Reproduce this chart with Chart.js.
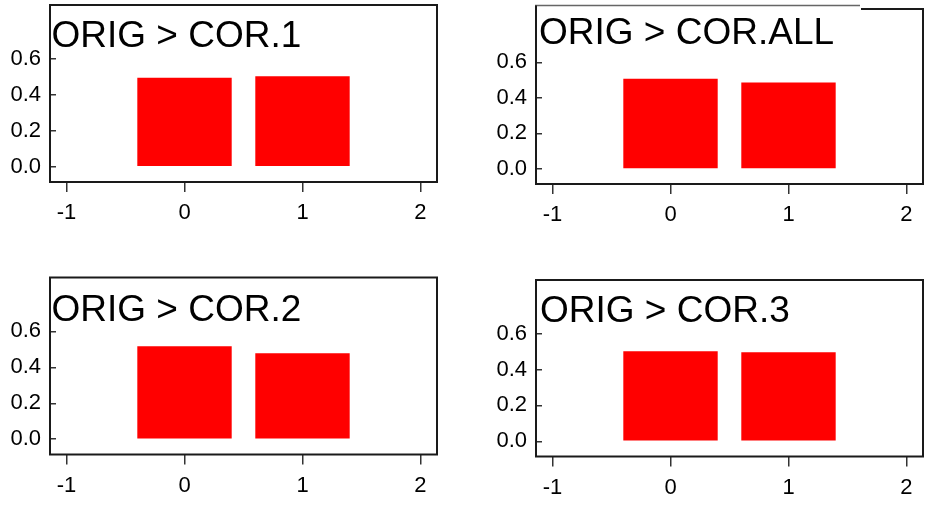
<!DOCTYPE html>
<html>
<head>
<meta charset="utf-8">
<script src="https://cdn.jsdelivr.net/npm/chart.js@4.4.0/dist/chart.umd.min.js"></script>
<style>
  body { margin: 0; background: #fff; }
  #painel { position: relative; width: 932px; height: 506px; }
  #painel canvas { position: absolute; }
</style>
</head>
<body>
<div id="painel">
  <canvas id="g1" width="466" height="253" style="left:0;top:0"></canvas>
  <canvas id="g2" width="466" height="253" style="left:466px;top:0"></canvas>
  <canvas id="g3" width="466" height="253" style="left:0;top:253px"></canvas>
  <canvas id="g4" width="466" height="253" style="left:466px;top:253px"></canvas>
</div>
<script>
// Dados de cada gráfico
const titulos = ['ORIG > COR.1', 'ORIG > COR.ALL', 'ORIG > COR.2', 'ORIG > COR.3'];
const posicoes = [0, 1];
const valoresCor1 = [0.495, 0.503];
const valoresCorAll = [0.507, 0.486];
const valoresCor2 = [0.518, 0.479];
const valoresCor3 = [0.502, 0.497];
const ticksX = [-1, 0, 1, 2];
const ticksY = [0, 0.2, 0.4, 0.6];

const series = [valoresCor1, valoresCorAll, valoresCor2, valoresCor3];

// Área de plotagem de cada canvas (em px) e posição do título
const areas = [
    { l: 50, t: 5, r: 437, b: 182, tx: 1.5, ty: 41.5, caixa: null },
    { l: 70, t: 9, r: 457, b: 184, tx: 3, ty: 34.5, caixa: { y: 5.5, r: 394 } },
    { l: 50, t: 24.5, r: 437, b: 201.5, tx: 1.5, ty: 43.5, caixa: null },
    { l: 70, t: 27, r: 457, b: 203.5, tx: 4, ty: 41.5, caixa: null }
];

const LARGURA_Y = 50;
const ALTURA_X = 45;

// Moldura preta em volta da área e título dentro dela
const moldura = {
    id: 'moldura',
    afterDraw(chart, args, opts) {
        const { ctx, chartArea: a } = chart;
        ctx.save();
        ctx.strokeStyle = '#1a1a1a';
        ctx.lineWidth = 2;
        ctx.strokeRect(a.left, a.top, a.right - a.left, a.bottom - a.top);

        if (opts.caixa) {
            // caixa branca da legenda por cima da borda superior
            ctx.fillStyle = '#fff';
            ctx.fillRect(a.left + 1, opts.caixa.y, opts.caixa.r - a.left, a.top - opts.caixa.y + 2);
            ctx.strokeStyle = '#666';
            ctx.lineWidth = 1.5;
            ctx.beginPath();
            ctx.moveTo(a.left - 1, opts.caixa.y);
            ctx.lineTo(opts.caixa.r, opts.caixa.y);
            ctx.stroke();
            ctx.strokeStyle = '#1a1a1a';
            ctx.lineWidth = 2;
            ctx.beginPath();
            ctx.moveTo(a.left, opts.caixa.y);
            ctx.lineTo(a.left, a.top);
            ctx.stroke();
        }

        ctx.fillStyle = '#000';
        ctx.font = '37px "Liberation Sans", Arial, sans-serif';
        ctx.textBaseline = 'alphabetic';
        ctx.textAlign = 'left';
        ctx.fillText(opts.texto, a.left + opts.tx, a.top + opts.ty);
        ctx.restore();
    }
};

const fonteTicks = { family: '"Liberation Sans", Arial, sans-serif', size: 22 };

function criarGrafico(idx) {
    const area = areas[idx];
    const ctx = document.getElementById('g' + (idx + 1)).getContext('2d');
    const dados = posicoes.map((x, i) => ({ x: x, y: series[idx][i] }));

    return new Chart(ctx, {
        type: 'bar',
        data: {
            datasets: [{
                data: dados,
                backgroundColor: '#ff0000',
                borderWidth: 0,
                barPercentage: 0.8,
                categoryPercentage: 1.0
            }]
        },
        options: {
            responsive: false,
            animation: false,
            layout: {
                padding: {
                    left: area.l - LARGURA_Y,
                    top: area.t,
                    right: 466 - area.r,
                    bottom: 253 - area.b - ALTURA_X
                }
            },
            plugins: {
                legend: { display: false },
                tooltip: { enabled: false },
                moldura: { texto: titulos[idx], tx: area.tx, ty: area.ty, caixa: area.caixa }
            },
            scales: {
                x: {
                    type: 'linear',
                    min: -1.14,
                    max: 2.14,
                    offset: false,
                    afterBuildTicks: s => { s.ticks = ticksX.map(v => ({ value: v })); },
                    afterFit: s => { s.height = ALTURA_X; s.paddingLeft = 0; s.paddingRight = 0; },
                    border: { display: false },
                    grid: { offset: false, drawOnChartArea: false, drawTicks: true, tickLength: 10, color: '#333', lineWidth: 1.5 },
                    ticks: { color: '#000', font: fonteTicks, padding: 8, maxRotation: 0, callback: v => String(v) }
                },
                y: {
                    min: -0.085,
                    max: 0.9,
                    afterBuildTicks: s => { s.ticks = ticksY.map(v => ({ value: v })); },
                    afterFit: s => { s.width = LARGURA_Y; s.paddingTop = 0; s.paddingBottom = 0; },
                    border: { display: false },
                    grid: { drawOnChartArea: false, drawTicks: true, tickLength: -6, color: '#333', lineWidth: 1.5 },
                    ticks: { color: '#000', font: fonteTicks, padding: 15, callback: v => v.toFixed(1) }
                }
            }
        },
        plugins: [moldura]
    });
}

document.addEventListener('DOMContentLoaded', () => {
    titulos.forEach((t, i) => criarGrafico(i));
});
</script>
</body>
</html>
